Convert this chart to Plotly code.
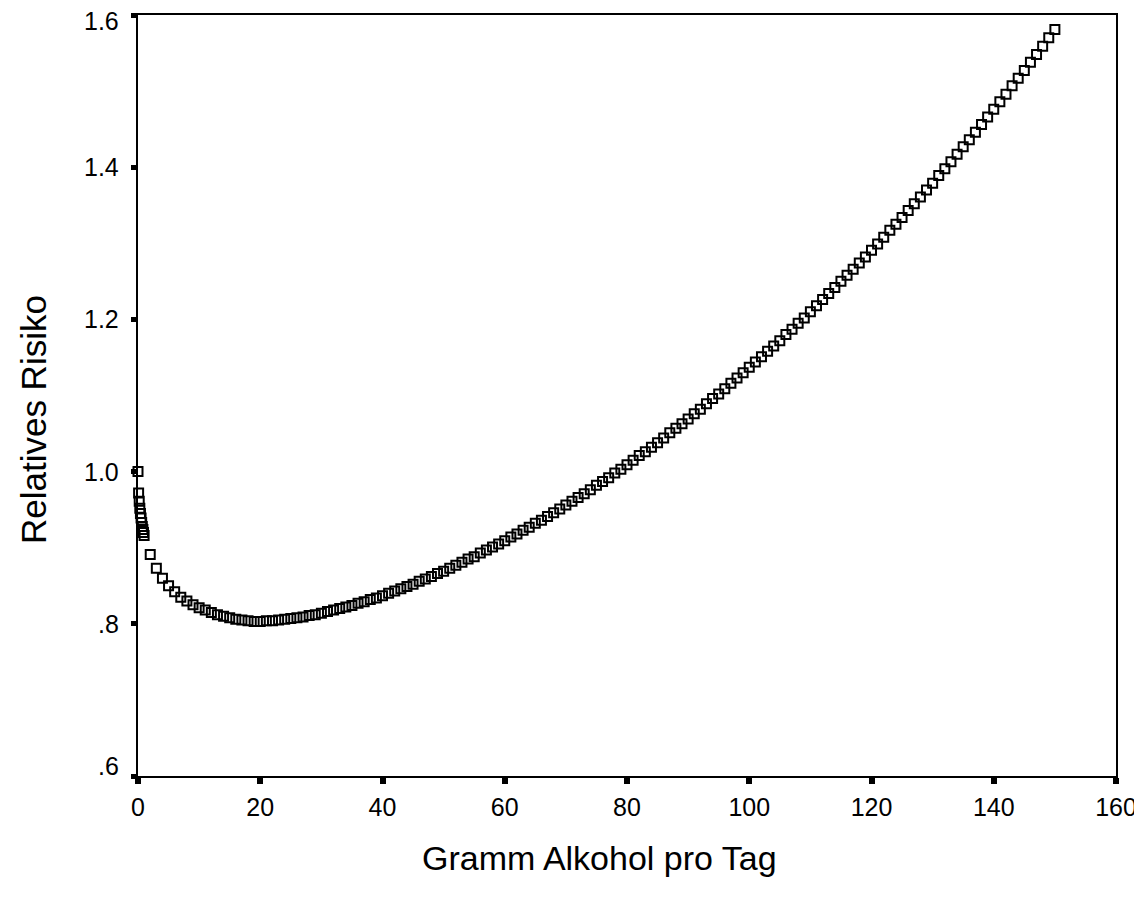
import plotly.graph_objects as go

# Gramm Alkohol pro Tag
grams = [0, 0.1, 0.2, 0.3, 0.4, 0.5, 0.6, 0.7, 0.8, 0.9, 1.0] + list(range(2, 151))

# Relatives Risiko
risk_low = [1.000, 0.972, 0.961, 0.952, 0.945, 0.939, 0.933, 0.928, 0.924, 0.920, 0.916]
risk_2_50 = [
    0.891, 0.873, 0.860, 0.850, 0.842, 0.835, 0.830, 0.825, 0.821, 0.818,
    0.815, 0.812, 0.810, 0.808, 0.806, 0.805, 0.804, 0.803, 0.803, 0.804,
    0.804, 0.805, 0.806, 0.807, 0.808, 0.809, 0.811, 0.812, 0.814, 0.816,
    0.818, 0.820, 0.822, 0.824, 0.827, 0.829, 0.832, 0.834, 0.837, 0.840,
    0.843, 0.846, 0.849, 0.852, 0.856, 0.859, 0.862, 0.866, 0.869,
]
risk_51_100 = [
    0.873, 0.877, 0.881, 0.885, 0.888, 0.893, 0.897, 0.901, 0.905, 0.909,
    0.914, 0.918, 0.923, 0.927, 0.932, 0.936, 0.941, 0.946, 0.951, 0.956,
    0.961, 0.966, 0.971, 0.976, 0.982, 0.987, 0.992, 0.998, 1.003, 1.009,
    1.015, 1.021, 1.026, 1.032, 1.038, 1.044, 1.051, 1.057, 1.063, 1.069,
    1.076, 1.082, 1.089, 1.096, 1.102, 1.109, 1.116, 1.123, 1.130, 1.137,
]
risk_101_150 = [
    1.144, 1.151, 1.158, 1.165, 1.172, 1.180, 1.187, 1.195, 1.202, 1.210,
    1.218, 1.226, 1.234, 1.242, 1.250, 1.258, 1.266, 1.274, 1.282, 1.291,
    1.299, 1.308, 1.317, 1.325, 1.334, 1.343, 1.352, 1.361, 1.370, 1.379,
    1.389, 1.398, 1.407, 1.417, 1.427, 1.436, 1.446, 1.456, 1.466, 1.476,
    1.486, 1.496, 1.507, 1.517, 1.527, 1.538, 1.548, 1.559, 1.570, 1.581,
]
risk = risk_low + risk_2_50 + risk_51_100 + risk_101_150

x_ticks = [0, 20, 40, 60, 80, 100, 120, 140, 160]
y_ticks = [0.6, 0.8, 1.0, 1.2, 1.4, 1.6]
y_tick_text = [".6", ".8", "1.0", "1.2", "1.4", "1.6"]

x_title = "Gramm Alkohol pro Tag"
y_title = "Relatives Risiko"

font_family = "Liberation Sans, Arial, sans-serif"

fig = go.Figure()
fig.add_trace(go.Scatter(
    x=grams, y=risk, mode="markers", cliponaxis=False,
    marker=dict(symbol="square-open", size=9, color="black",
                line=dict(color="black", width=2)),
    showlegend=False,
))

# page body has an 8px default margin, so the figure is 8px smaller
fig.update_layout(
    width=1134, height=900,
    margin=dict(l=130, r=26, t=7, b=132),
    paper_bgcolor="white", plot_bgcolor="white",
    font=dict(family=font_family, color="black", size=25),
)
fig.update_xaxes(
    range=[0, 160], tickvals=x_ticks, ticks="outside", ticklen=6, tickwidth=6,
    tickcolor="black", showline=True, linecolor="black", linewidth=2, mirror=True,
    showgrid=False, zeroline=False, tickfont=dict(size=25),
    ticklabelstandoff=2, automargin=False,
)
fig.update_yaxes(
    range=[0.6, 1.6], tickvals=y_ticks, ticks="outside", showticklabels=False,
    ticklen=5, tickwidth=5, tickcolor="black", showline=True, linecolor="black",
    linewidth=2, mirror=True, showgrid=False, zeroline=False, automargin=False,
)

# y tick labels (the end labels sit just inside the axis range, as in the reference)
for val, txt in zip(y_ticks, y_tick_text):
    shift = 0
    if val == max(y_ticks):
        shift = -6
    elif val == min(y_ticks):
        shift = 10
    fig.add_annotation(
        text=txt, xref="paper", yref="y", x=0, y=val, xanchor="right",
        yanchor="middle", xshift=-17, yshift=shift, showarrow=False,
        font=dict(size=25, family=font_family, color="black"),
    )

fig.add_annotation(
    text=x_title, xref="paper", yref="paper", x=0.4714, y=-0.108,
    xanchor="center", yanchor="middle", showarrow=False,
    font=dict(size=34, family=font_family, color="black"),
)
fig.add_annotation(
    text=y_title, xref="paper", yref="paper", x=-0.1074, y=0.469,
    xanchor="center", yanchor="middle", showarrow=False, textangle=-90,
    font=dict(size=35, family=font_family, color="black"),
)

fig.write_html("out.html")
